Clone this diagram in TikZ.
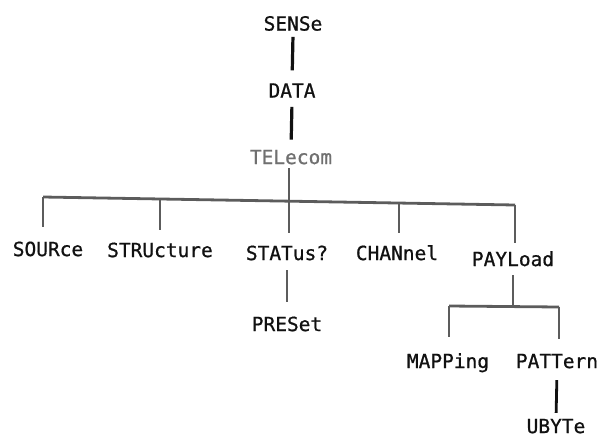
\documentclass[tikz,border=0pt]{standalone}
\usepackage{fontspec}
\newfontfamily\dmono[FakeBold=0.8]{DejaVu Sans Mono}
\definecolor{lgray}{HTML}{5C5C5C}
\definecolor{tgray}{HTML}{707070}
\definecolor{ink}{HTML}{111111}
\begin{document}
\begin{tikzpicture}[x=1pt,y=-1pt,
  lbl/.style={inner sep=0pt, text height=14.3pt, text depth=4.2pt, text=ink,
    font=\dmono\fontsize{19.5}{20}\selectfont},
  blk/.style={draw=ink, line width=3.2pt},
  gry/.style={draw=lgray, line width=2.8pt}]
\useasboundingbox (0,0) rectangle (599,439);
% nodes
\node[lbl] (sense) at (293,25.5) {SENSe};
\node[lbl] (data) at (292,92.5) {DATA};
\node[lbl, text=tgray] (tel) at (291,159) {TELecom};
\node[lbl] (src) at (48,251) {SOURce};
\node[lbl] (stru) at (160,252) {STRUcture};
\node[lbl] (stat) at (287,255) {STATus?};
\node[lbl] (chan) at (397,255) {CHANnel};
\node[lbl] (pay) at (513,261) {PAYLoad};
\node[lbl] (pre) at (287,326) {PRESet};
\node[lbl] (mapp) at (448,363) {MAPPing};
\node[lbl] (patt) at (557,363) {PATTern};
\node[lbl] (ubyte) at (556,428) {UBYTe};
% bus coordinates
\coordinate (b1) at (43,197);
\coordinate (b2) at (160,199);
\coordinate (b3) at (289,201);
\coordinate (b4) at (399,203);
\coordinate (b5) at (515,205);
\coordinate (s0) at (513,306);
\coordinate (s1) at (449,306);
\coordinate (s2) at (559,307);
% connectors
\draw[blk, shorten <=2pt, shorten >=12.75pt] (sense.south) -- (data.north);
\draw[blk, shorten <=5pt, shorten >=10pt] (data.south) -- (tel.north);
\draw[gry] (tel.south -| b3) -- (b3);
\draw[gry] (b1) -- (b5);
\draw[gry, shorten >=14.75pt] (b1) -- (b1 |- src.north);
\draw[gry, shorten >=12.75pt] (b2) -- (b2 |- stru.north);
\draw[gry, shorten >=12.75pt] (b3) -- (b3 |- stat.north);
\draw[gry, shorten >=12.75pt] (b4) -- (b4 |- chan.north);
\draw[gry, shorten >=8.75pt] (b5) -- (b5 |- pay.north);
\draw[gry, line width=2.3pt, shorten <=5.75pt, shorten >=14.75pt] (stat.south) -- (pre.north);
\draw[gry, shorten <=4.75pt] (pay.south) -- (s0);
\draw[gry] (s1) -- (s2);
\draw[gry, shorten >=16.75pt] (s1) -- (s1 |- mapp.north);
\draw[gry, shorten >=14.75pt] (s2) -- (s2 |- patt.north);
\draw[blk, line width=2.8pt, shorten <=7.75pt, shorten >=5.75pt] (patt.south) -- (ubyte.north);
\end{tikzpicture}
\end{document}
